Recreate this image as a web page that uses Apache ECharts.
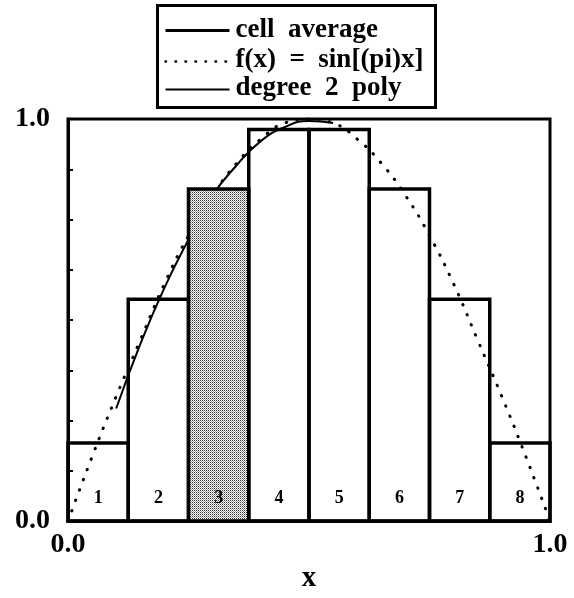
<!DOCTYPE html>
<html>
<head>
<meta charset="utf-8">
<script src="https://cdn.jsdelivr.net/npm/echarts@6/dist/echarts.min.js"></script>
<style>
  html, body { margin: 0; padding: 0; background: #fff; }
  #main { width: 574px; height: 598px; }
</style>
</head>
<body>
<div id="main"></div>
<script>
// cell edges and averages (8 cells on [0,1])
const cellEdges = [0, 0.125, 0.25, 0.375, 0.5, 0.625, 0.75, 0.875, 1];
const cellAverages = [0.194, 0.552, 0.826, 0.974, 0.974, 0.826, 0.552, 0.194];
const cellLabels = ['1', '2', '3', '4', '5', '6', '7', '8'];
const shadedCell = 2;

// f(x) = sin(pi x)
const sinX = [0, 0.05, 0.1, 0.15, 0.2, 0.25, 0.3, 0.35, 0.4, 0.45, 0.5, 0.55, 0.6, 0.65, 0.7, 0.75, 0.8, 0.85, 0.9, 0.95, 1];
const sinY = [0, 0.16, 0.31, 0.45, 0.59, 0.71, 0.81, 0.89, 0.95, 0.99, 1.0, 0.99, 0.95, 0.89, 0.81, 0.71, 0.59, 0.45, 0.31, 0.16, 0];

// degree 2 poly, solid curve from x=0.1 to 0.55
const polyX = [0.1, 0.15, 0.2, 0.25, 0.3, 0.35, 0.4, 0.45, 0.5, 0.55];
const polyY = [0.28, 0.44, 0.58, 0.70, 0.81, 0.885, 0.945, 0.98, 0.995, 0.99];

const yTicks = [0, 1];
const legendNames = ['cell  average', 'f(x)  =  sin[(pi)x]', 'degree  2  poly'];

const FONT = '"Liberation Serif", "Times New Roman", serif';

// stipple pattern for the shaded cell
const pat = document.createElement('canvas');
pat.width = 2;
pat.height = 2;
(function() {
  const ctx = pat.getContext('2d');
  ctx.fillStyle = '#fff';
  ctx.fillRect(0, 0, 2, 2);
  ctx.fillStyle = '#333';
  ctx.fillRect(0, 0, 1, 1);
  ctx.fillStyle = '#999';
  ctx.fillRect(1, 1, 1, 1);
})();

const cellData = cellAverages.map((v, i) => [cellEdges[i], cellEdges[i + 1], v, i]);

const chart = echarts.init(document.getElementById('main'));

const option = {
  animation: false,
  backgroundColor: '#fff',
  grid: {
    left: 68,
    right: 24,
    top: 119,
    bottom: 54,
    show: true,
    borderColor: '#000',
    borderWidth: 3,
    backgroundColor: 'transparent'
  },
  xAxis: {
    type: 'value',
    min: 0,
    max: 1,
    interval: 1,
    name: 'x',
    nameLocation: 'middle',
    nameGap: 25,
    nameTextStyle: { color: '#000', fontFamily: FONT, fontWeight: 'bold', fontSize: 29 },
    axisLine: { show: true, lineStyle: { color: '#000', width: 3 } },
    axisTick: { show: false },
    splitLine: { show: false },
    axisLabel: {
      color: '#000',
      fontFamily: FONT,
      fontWeight: 'bold',
      fontSize: 28,
      margin: 10,
      formatter: v => v.toFixed(1)
    }
  },
  yAxis: {
    type: 'value',
    min: 0,
    max: 1,
    interval: 0.125,
    axisLine: { show: true, lineStyle: { color: '#000', width: 3 } },
    axisTick: { show: true, inside: true, length: 5, lineStyle: { color: '#000', width: 2 } },
    splitLine: { show: false },
    axisLabel: {
      color: '#000',
      fontFamily: FONT,
      fontWeight: 'bold',
      fontSize: 28,
      margin: 18,
      formatter: v => (yTicks.indexOf(v) >= 0 ? v.toFixed(1) : '')
    }
  },
  series: [
    {
      name: 'f(x) = sin[(pi)x]',
      type: 'line',
      z: 1,
      smooth: true,
      showSymbol: false,
      data: sinX.map((x, i) => [x, sinY[i]]),
      lineStyle: { color: '#000', width: 3, type: [0.5, 10.5], cap: 'round' }
    },
    {
      name: 'degree 2 poly',
      type: 'line',
      z: 2,
      smooth: true,
      showSymbol: false,
      data: polyX.map((x, i) => [x, polyY[i]]),
      lineStyle: { color: '#000', width: 2 }
    },
    {
      name: 'cell average',
      type: 'custom',
      z: 3,
      data: cellData,
      encode: { x: [0, 1], y: 2 },
      renderItem: function(params, api) {
        const p0 = api.coord([api.value(0), 0]);
        const p1 = api.coord([api.value(1), api.value(2)]);
        const idx = api.value(3);
        const mid = api.coord([(api.value(0) + api.value(1)) / 2, 0.056]);
        return {
          type: 'group',
          children: [
            {
              type: 'rect',
              shape: { x: p0[0], y: p1[1], width: p1[0] - p0[0], height: p0[1] - p1[1] },
              style: {
                fill: idx === shadedCell ? { image: pat, repeat: 'repeat' } : 'transparent',
                stroke: '#000',
                lineWidth: 3.5
              }
            },
            {
              type: 'text',
              style: {
                x: mid[0],
                y: mid[1],
                text: cellLabels[idx],
                align: 'center',
                verticalAlign: 'middle',
                font: 'bold 18px ' + FONT,
                fill: '#000'
              }
            }
          ]
        };
      }
    }
  ],
  graphic: [
    {
      type: 'group',
      left: 156,
      top: 4,
      children: [
        { type: 'rect', shape: { x: 0, y: 0, width: 278, height: 102 }, style: { fill: '#fff', stroke: '#000', lineWidth: 3 } },
        { type: 'line', shape: { x1: 8, y1: 25, x2: 72, y2: 25 }, style: { stroke: '#000', lineWidth: 3 } },
        { type: 'line', shape: { x1: 8, y1: 56, x2: 72, y2: 56 }, style: { stroke: '#000', lineWidth: 2.5, lineDash: [0.5, 9.5], lineCap: 'round' } },
        { type: 'line', shape: { x1: 8, y1: 84, x2: 72, y2: 84 }, style: { stroke: '#000', lineWidth: 2 } },
        { type: 'text', style: { x: 78, y: 25, text: legendNames[0], font: 'bold 27px ' + FONT, verticalAlign: 'middle', fill: '#000' } },
        { type: 'text', style: { x: 78, y: 55, text: legendNames[1], font: 'bold 27px ' + FONT, verticalAlign: 'middle', fill: '#000' } },
        { type: 'text', style: { x: 78, y: 83, text: legendNames[2], font: 'bold 27px ' + FONT, verticalAlign: 'middle', fill: '#000' } }
      ]
    }
  ]
};

chart.setOption(option);
</script>
</body>
</html>
